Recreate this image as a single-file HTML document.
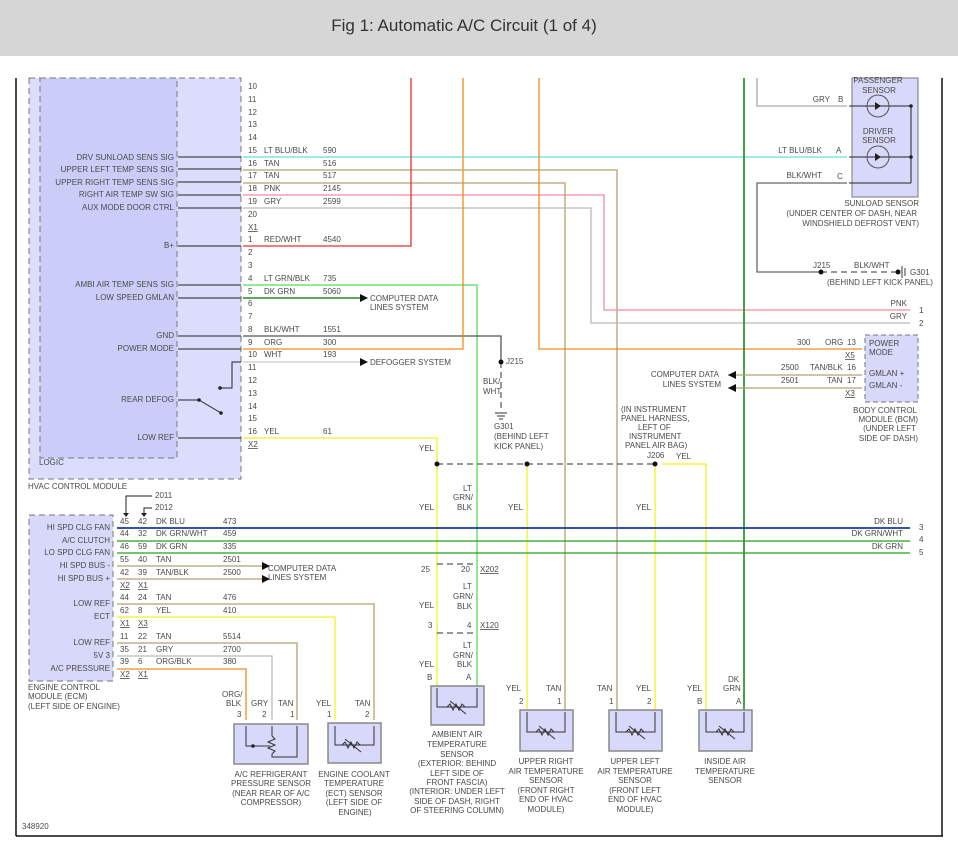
<!DOCTYPE html>
<html><head><meta charset="utf-8"><style>
html,body{margin:0;padding:0;background:#fff;width:958px;height:848px;overflow:hidden}
svg{display:block}
text{font-family:"Liberation Sans",sans-serif;font-size:8px;fill:#4a4a4a}
.t{font-size:17px;fill:#333}
.r{text-anchor:end}.m{text-anchor:middle}
.u{text-decoration:underline}
</style></head><body>
<svg width="958" height="848" viewBox="0 0 958 848" xmlns="http://www.w3.org/2000/svg">
<rect x="0" y="0" width="958" height="56" fill="#d6d6d6"/>
<text x="464" y="31" class="t m">Fig 1: Automatic A/C Circuit (1 of 4)</text>
<!-- frame -->
<line x1="16" y1="78" x2="16" y2="836" stroke="#111" stroke-width="1.5"/>
<line x1="16" y1="836" x2="943" y2="836" stroke="#111" stroke-width="1.5"/>
<line x1="942" y1="78" x2="942" y2="836" stroke="#111" stroke-width="1.5"/>

<!-- HVAC module -->
<rect x="29" y="78" width="212" height="401" fill="#dcdcfc" stroke="#777" stroke-dasharray="6,4"/>
<rect x="40" y="78" width="137" height="380" fill="#ccccf8" stroke="#777" stroke-dasharray="6,4"/>
<text x="39" y="465">LOGIC</text>
<text x="28" y="489">HVAC CONTROL MODULE</text>
<g fill="none" stroke-width="1.3">
<line x1="243" y1="157" x2="847" y2="157" stroke="#5ee0e4"/>
<polyline points="243,170 617,170 617,710" stroke="#b5a070"/>
<polyline points="243,183 565,183 565,710" stroke="#b5a070"/>
<polyline points="243,195 604,195 604,310 910,310" stroke="#f08aa0"/>
<polyline points="243,208 591,208 591,323 910,323" stroke="#bbb"/>
<polyline points="243,246 411,246 411,78" stroke="#e83030"/>
<polyline points="243,285 477,285 477,710" stroke="#55dd55"/>
<line x1="243" y1="298" x2="360" y2="298" stroke="#2a8a2a" stroke-width="1.6"/>
<polyline points="243,336 501,336 501,362" stroke="#555"/>
<polyline points="243,349 463,349 463,78" stroke="#f08a20"/>
<polyline points="539,78 539,349 862,349" stroke="#f08a20"/>
<line x1="243" y1="362" x2="360" y2="362" stroke="#ccc"/>
<polyline points="243,438 437,438 437,710" stroke="#f5f020"/>
<line x1="527" y1="464" x2="527" y2="710" stroke="#f5f020"/>
<line x1="655" y1="464" x2="655" y2="710" stroke="#f5f020"/>
<polyline points="662,464 706,464 706,710" stroke="#f5f020"/>
<line x1="744" y1="78" x2="744" y2="710" stroke="#1a8a1a" stroke-width="1.6"/>
<polyline points="757,78 757,106 847,106" stroke="#aaa"/>
<polyline points="847,183 757,183 757,272 821,272" stroke="#666"/>
<line x1="728" y1="375" x2="862" y2="375" stroke="#b5a070"/>
<line x1="728" y1="388" x2="862" y2="388" stroke="#b5a070"/>
</g>
<g stroke="#333" stroke-width="1" fill="none" stroke-dasharray="6,4">
<line x1="437" y1="464" x2="655" y2="464"/>
<line x1="821" y1="272" x2="897" y2="272"/>
<line x1="501" y1="362" x2="501" y2="412"/>
<line x1="437" y1="564" x2="477" y2="564"/>
<line x1="437" y1="633" x2="477" y2="633"/>
</g>
<g fill="#111"><circle cx="437" cy="464" r="2.5"/><circle cx="527" cy="464" r="2.5"/><circle cx="655" cy="464" r="2.5"/><circle cx="501" cy="362" r="2.5"/><circle cx="821" cy="272" r="2.5"/><circle cx="898" cy="272" r="2.5"/>
<polygon points="360,294 368,298 360,302"/><polygon points="360,358 368,362 360,366"/>
<polygon points="736,371 728,375 736,379"/><polygon points="736,384 728,388 736,392"/>
<polygon points="262,562 270,566 262,570"/><polygon points="262,575 270,579 262,583"/></g>
<!-- ground symbols -->
<g stroke="#333"><line x1="495" y1="413" x2="507" y2="413"/><line x1="497" y1="416" x2="505" y2="416"/><line x1="499" y1="419" x2="503" y2="419"/>
<line x1="902" y1="266" x2="902" y2="278"/><line x1="905" y1="268" x2="905" y2="276"/></g>
<!-- module input lines -->
<g stroke="#222" stroke-width="1">
<line x1="178" y1="157" x2="241" y2="157"/><line x1="178" y1="169" x2="241" y2="169"/><line x1="178" y1="182" x2="241" y2="182"/><line x1="178" y1="195" x2="241" y2="195"/><line x1="178" y1="208" x2="241" y2="208"/><line x1="178" y1="246" x2="241" y2="246"/><line x1="178" y1="285" x2="241" y2="285"/><line x1="178" y1="298" x2="241" y2="298"/><line x1="178" y1="336" x2="241" y2="336"/><line x1="178" y1="349" x2="241" y2="349"/><line x1="178" y1="400" x2="199" y2="400"/><line x1="199" y1="400" x2="221" y2="413"/><polyline points="220,388 232,388 232,362 241,362" fill="none"/><line x1="178" y1="438" x2="241" y2="438"/>
</g>
<g fill="#222"><circle cx="199" cy="400" r="1.8"/><circle cx="221" cy="413" r="1.8"/><circle cx="220" cy="388" r="1.8"/></g>
<g class="r">
<text x="174" y="160" class="r">DRV SUNLOAD SENS SIG</text><text x="174" y="172" class="r">UPPER LEFT TEMP SENS SIG</text><text x="174" y="185" class="r">UPPER RIGHT TEMP SENS SIG</text><text x="174" y="197" class="r">RIGHT AIR TEMP SW SIG</text><text x="174" y="210" class="r">AUX MODE DOOR CTRL</text><text x="174" y="248" class="r">B+</text><text x="174" y="287" class="r">AMBI AIR TEMP SENS SIG</text><text x="174" y="300" class="r">LOW SPEED GMLAN</text><text x="174" y="338" class="r">GND</text><text x="174" y="351" class="r">POWER MODE</text><text x="174" y="402" class="r">REAR DEFOG</text><text x="174" y="440" class="r">LOW REF</text>
</g>
<g>
<text x="248" y="89">10</text><text x="248" y="102">11</text><text x="248" y="115">12</text><text x="248" y="127">13</text><text x="248" y="140">14</text><text x="248" y="153">15</text><text x="248" y="166">16</text><text x="248" y="178">17</text><text x="248" y="191">18</text><text x="248" y="204">19</text><text x="248" y="217">20</text><text x="248" y="230" class="u">X1</text><text x="248" y="242">1</text><text x="248" y="255">2</text><text x="248" y="268">3</text><text x="248" y="281">4</text><text x="248" y="294">5</text><text x="248" y="306">6</text><text x="248" y="319">7</text><text x="248" y="332">8</text><text x="248" y="345">9</text><text x="248" y="357">10</text><text x="248" y="370">11</text><text x="248" y="383">12</text><text x="248" y="396">13</text><text x="248" y="409">14</text><text x="248" y="421">15</text><text x="248" y="434">16</text><text x="248" y="447" class="u">X2</text>
<text x="264" y="153">LT BLU/BLK</text><text x="323" y="153">590</text><text x="264" y="166">TAN</text><text x="323" y="166">516</text><text x="264" y="178">TAN</text><text x="323" y="178">517</text><text x="264" y="191">PNK</text><text x="323" y="191">2145</text><text x="264" y="204">GRY</text><text x="323" y="204">2599</text><text x="264" y="242">RED/WHT</text><text x="323" y="242">4540</text><text x="264" y="281">LT GRN/BLK</text><text x="323" y="281">735</text><text x="264" y="294">DK GRN</text><text x="323" y="294">5060</text><text x="264" y="332">BLK/WHT</text><text x="323" y="332">1551</text><text x="264" y="345">ORG</text><text x="323" y="345">300</text><text x="264" y="357">WHT</text><text x="323" y="357">193</text><text x="264" y="434">YEL</text><text x="323" y="434">61</text>
<text x="370" y="301">COMPUTER DATA</text><text x="370" y="310">LINES SYSTEM</text><text x="370" y="365">DEFOGGER SYSTEM</text>
<text x="506" y="364">J215</text><text x="483" y="384">BLK/</text><text x="483" y="394">WHT</text><text x="494" y="429">G301</text><text x="494" y="439">(BEHIND LEFT</text><text x="494" y="449">KICK PANEL)</text>
<text x="419" y="451">YEL</text>
<text x="621" y="412">(IN INSTRUMENT</text><text x="621" y="421">PANEL HARNESS,</text><text x="638" y="430">LEFT OF</text><text x="629" y="439">INSTRUMENT</text><text x="625" y="448">PANEL AIR BAG)</text><text x="647" y="458">J206</text><text x="676" y="459">YEL</text>
</g>
<!-- sunload -->
<rect x="852" y="78" width="66" height="119" fill="#d8d8fa" stroke="#777"/>
<g stroke="#222" fill="none"><line x1="849" y1="106" x2="911" y2="106"/><line x1="849" y1="157" x2="911" y2="157"/><line x1="849" y1="183" x2="911" y2="183"/><line x1="911" y1="106" x2="911" y2="183"/><circle cx="878" cy="106" r="11" stroke="#555"/><circle cx="878" cy="157" r="11" stroke="#555"/></g>
<g fill="#222"><polygon points="875,102 875,110 881,106"/><polygon points="875,153 875,161 881,157"/><circle cx="911" cy="106" r="1.8"/><circle cx="911" cy="157" r="1.8"/></g>
<text x="878" y="83" class="m">PASSENGER</text><text x="879" y="93" class="m">SENSOR</text><text x="878" y="134" class="m">DRIVER</text><text x="879" y="143" class="m">SENSOR</text>
<text x="830" y="102" class="r">GRY</text><text x="838" y="102">B</text><text x="822" y="153" class="r">LT BLU/BLK</text><text x="836" y="153">A</text><text x="822" y="178" class="r">BLK/WHT</text><text x="837" y="179">C</text>
<text x="919" y="206" class="r">SUNLOAD SENSOR</text><text x="917" y="216" class="r">(UNDER CENTER OF DASH, NEAR</text><text x="919" y="226" class="r">WINDSHIELD DEFROST VENT)</text>
<text x="813" y="268">J215</text><text x="854" y="268">BLK/WHT</text><text x="910" y="275">G301</text><text x="827" y="285">(BEHIND LEFT KICK PANEL)</text>
<text x="907" y="306" class="r">PNK</text><text x="919" y="313">1</text><text x="907" y="319" class="r">GRY</text><text x="919" y="326">2</text>
<!-- BCM -->
<rect x="865" y="335" width="53" height="67" fill="#d8d8fa" stroke="#777" stroke-dasharray="5,3"/>
<text x="869" y="346">POWER</text><text x="869" y="355">MODE</text><text x="869" y="376">GMLAN +</text><text x="869" y="388">GMLAN -</text>
<text x="797" y="345">300</text><text x="825" y="345">ORG</text><text x="847" y="345">13</text><text x="845" y="358" class="u">X5</text>
<text x="781" y="370">2500</text><text x="810" y="370">TAN/BLK</text><text x="847" y="370">16</text><text x="781" y="383">2501</text><text x="827" y="383">TAN</text><text x="847" y="383">17</text><text x="845" y="396" class="u">X3</text>
<text x="719" y="377" class="r">COMPUTER DATA</text><text x="721" y="387" class="r">LINES SYSTEM</text>
<text x="917" y="413" class="r">BODY CONTROL</text><text x="918" y="422" class="r">MODULE (BCM)</text><text x="916" y="431" class="r">(UNDER LEFT</text><text x="918" y="441" class="r">SIDE OF DASH)</text>

<!-- ECM -->
<rect x="29" y="515" width="84" height="166" fill="#d8d8fa" stroke="#777" stroke-dasharray="6,4"/>
<g fill="none" stroke-width="1.3">
<line x1="117" y1="528" x2="910" y2="528" stroke="#1a3a9a" stroke-width="1.8"/>
<line x1="117" y1="541" x2="910" y2="541" stroke="#22a022"/>
<line x1="117" y1="553" x2="910" y2="553" stroke="#22a022"/>
<line x1="117" y1="566" x2="262" y2="566" stroke="#b5a070"/>
<line x1="117" y1="579" x2="262" y2="579" stroke="#b5a070"/>
<polyline points="117,604 374,604 374,720" stroke="#b5a070"/>
<polyline points="117,617 335,617 335,720" stroke="#f5f020"/>
<polyline points="117,643 297,643 297,720" stroke="#b5a070"/>
<polyline points="117,656 272,656 272,720" stroke="#bbb"/>
<polyline points="117,669 246,669 246,720" stroke="#f08a20"/>
</g>
<g stroke="#222" fill="none"><polyline points="152,496 126,496 126,514"/><polyline points="152,508 144,508 144,514"/></g>
<g fill="#222"><polygon points="123,513 129,513 126,517"/><polygon points="141,513 147,513 144,517"/></g>
<text x="155" y="498">2011</text><text x="155" y="510">2012</text>
<g>
<text x="110" y="530" class="r">HI SPD CLG FAN</text><text x="110" y="543" class="r">A/C CLUTCH</text><text x="110" y="555" class="r">LO SPD CLG FAN</text><text x="110" y="568" class="r">HI SPD BUS -</text><text x="110" y="581" class="r">HI SPD BUS +</text><text x="110" y="606" class="r">LOW REF</text><text x="110" y="619" class="r">ECT</text><text x="110" y="645" class="r">LOW REF</text><text x="110" y="658" class="r">5V 3</text><text x="110" y="671" class="r">A/C PRESSURE</text>
<text x="120" y="524">45</text><text x="138" y="524">42</text><text x="156" y="524">DK BLU</text><text x="223" y="524">473</text>
<text x="120" y="536">44</text><text x="138" y="536">32</text><text x="156" y="536">DK GRN/WHT</text><text x="223" y="536">459</text>
<text x="120" y="549">46</text><text x="138" y="549">59</text><text x="156" y="549">DK GRN</text><text x="223" y="549">335</text>
<text x="120" y="562">55</text><text x="138" y="562">40</text><text x="156" y="562">TAN</text><text x="223" y="562">2501</text>
<text x="120" y="575">42</text><text x="138" y="575">39</text><text x="156" y="575">TAN/BLK</text><text x="223" y="575">2500</text>
<text x="120" y="588" class="u">X2</text><text x="138" y="588" class="u">X1</text>
<text x="120" y="600">44</text><text x="138" y="600">24</text><text x="156" y="600">TAN</text><text x="223" y="600">476</text>
<text x="120" y="613">62</text><text x="138" y="613">8</text><text x="156" y="613">YEL</text><text x="223" y="613">410</text>
<text x="120" y="626" class="u">X1</text><text x="138" y="626" class="u">X3</text>
<text x="120" y="639">11</text><text x="138" y="639">22</text><text x="156" y="639">TAN</text><text x="223" y="639">5514</text>
<text x="120" y="652">35</text><text x="138" y="652">21</text><text x="156" y="652">GRY</text><text x="223" y="652">2700</text>
<text x="120" y="664">39</text><text x="138" y="664">6</text><text x="156" y="664">ORG/BLK</text><text x="223" y="664">380</text>
<text x="120" y="677" class="u">X2</text><text x="138" y="677" class="u">X1</text>
<text x="268" y="571">COMPUTER DATA</text><text x="268" y="580">LINES SYSTEM</text>
<text x="28" y="690">ENGINE CONTROL</text><text x="28" y="699">MODULE (ECM)</text><text x="28" y="709">(LEFT SIDE OF ENGINE)</text>
<text x="22" y="829">348920</text>
</g>
<!-- connector labels middle -->
<g>
<text x="419" y="510">YEL</text><text x="463" y="491">LT</text><text x="453" y="500">GRN/</text><text x="457" y="510">BLK</text>
<text x="421" y="572">25</text><text x="461" y="572">20</text><text x="480" y="572" class="u">X202</text>
<text x="463" y="589">LT</text><text x="453" y="599">GRN/</text><text x="457" y="609">BLK</text><text x="419" y="608">YEL</text>
<text x="428" y="628">3</text><text x="467" y="628">4</text><text x="480" y="628" class="u">X120</text>
<text x="463" y="648">LT</text><text x="453" y="658">GRN/</text><text x="457" y="667">BLK</text><text x="419" y="667">YEL</text>
<text x="427" y="680">B</text><text x="466" y="680">A</text>
<text x="508" y="510">YEL</text><text x="636" y="510">YEL</text>
<text x="506" y="691">YEL</text><text x="546" y="691">TAN</text><text x="519" y="704">2</text><text x="557" y="704">1</text>
<text x="597" y="691">TAN</text><text x="636" y="691">YEL</text><text x="609" y="704">1</text><text x="647" y="704">2</text>
<text x="687" y="691">YEL</text><text x="728" y="682">DK</text><text x="723" y="691">GRN</text><text x="697" y="704">B</text><text x="736" y="704">A</text>
<text x="222" y="697">ORG/</text><text x="226" y="706">BLK</text><text x="251" y="706">GRY</text><text x="278" y="706">TAN</text><text x="237" y="717">3</text><text x="262" y="717">2</text><text x="290" y="717">1</text>
<text x="316" y="706">YEL</text><text x="355" y="706">TAN</text><text x="327" y="717">1</text><text x="365" y="717">2</text>
</g>
<!-- sensor boxes -->
<g fill="#d8d8fa" stroke="#888" stroke-width="1.5">
<rect x="234" y="724" width="74" height="40"/><rect x="328" y="723" width="53" height="40"/><rect x="431" y="686" width="53" height="39"/><rect x="520" y="710" width="53" height="41"/><rect x="609" y="710" width="53" height="41"/><rect x="699" y="710" width="53" height="41"/>
</g>
<g fill="none" stroke="#333" stroke-width="1">
<polyline points="246,726 246,746 270,746"/><polyline points="272,726 272,736"/><polyline points="272,736 275,739 268,742 275,745 268,748 275,751 272,754 272,757 297,757 297,726"/>
<polyline points="335,726 335,745 374,745 374,726"/><polyline points="342,745 345,742 348,748 351,742 354,748 357,742 360,745"/><line x1="345" y1="739" x2="361" y2="752"/>
<polyline points="437,688 437,707 477,707 477,688"/><polyline points="447,707 450,704 453,710 456,704 459,710 462,704 465,707"/><line x1="450" y1="701" x2="466" y2="714"/>
<polyline points="527,712 527,732 565,732 565,712"/><polyline points="536,732 539,729 542,735 545,729 548,735 551,729 554,732"/><line x1="539" y1="726" x2="555" y2="739"/>
<polyline points="616,712 616,732 655,732 655,712"/><polyline points="626,732 629,729 632,735 635,729 638,735 641,729 644,732"/><line x1="629" y1="726" x2="645" y2="739"/>
<polyline points="706,712 706,732 744,732 744,712"/><polyline points="716,732 719,729 722,735 725,729 728,735 731,729 734,732"/><line x1="719" y1="726" x2="735" y2="739"/>
</g>
<circle cx="253" cy="746" r="1.8" fill="#222"/>
<g class="m">
<text x="271" y="777" class="m">A/C REFRIGERANT</text><text x="271" y="786" class="m">PRESSURE SENSOR</text><text x="271" y="796" class="m">(NEAR REAR OF A/C</text><text x="271" y="805" class="m">COMPRESSOR)</text>
<text x="354" y="777" class="m">ENGINE COOLANT</text><text x="354" y="786" class="m">TEMPERATURE</text><text x="354" y="796" class="m">(ECT) SENSOR</text><text x="354" y="805" class="m">(LEFT SIDE OF</text><text x="355" y="815" class="m">ENGINE)</text>
<text x="457" y="737" class="m">AMBIENT AIR</text><text x="457" y="747" class="m">TEMPERATURE</text><text x="457" y="757" class="m">SENSOR</text><text x="457" y="766" class="m">(EXTERIOR: BEHIND</text><text x="457" y="776" class="m">LEFT SIDE OF</text><text x="457" y="785" class="m">FRONT FASCIA)</text><text x="457" y="794" class="m">(INTERIOR: UNDER LEFT</text><text x="457" y="804" class="m">SIDE OF DASH, RIGHT</text><text x="457" y="813" class="m">OF STEERING COLUMN)</text>
<text x="546" y="764" class="m">UPPER RIGHT</text><text x="546" y="774" class="m">AIR TEMPERATURE</text><text x="546" y="783" class="m">SENSOR</text><text x="546" y="793" class="m">(FRONT RIGHT</text><text x="546" y="802" class="m">END OF HVAC</text><text x="546" y="812" class="m">MODULE)</text>
<text x="635" y="764" class="m">UPPER LEFT</text><text x="635" y="774" class="m">AIR TEMPERATURE</text><text x="635" y="783" class="m">SENSOR</text><text x="635" y="793" class="m">(FRONT LEFT</text><text x="635" y="802" class="m">END OF HVAC</text><text x="635" y="812" class="m">MODULE)</text>
<text x="725" y="764" class="m">INSIDE AIR</text><text x="725" y="774" class="m">TEMPERATURE</text><text x="725" y="783" class="m">SENSOR</text>
</g>
<text x="903" y="524" class="r">DK BLU</text><text x="919" y="530">3</text><text x="903" y="536" class="r">DK GRN/WHT</text><text x="919" y="542">4</text><text x="903" y="549" class="r">DK GRN</text><text x="919" y="555">5</text>
</svg>
</body></html>
